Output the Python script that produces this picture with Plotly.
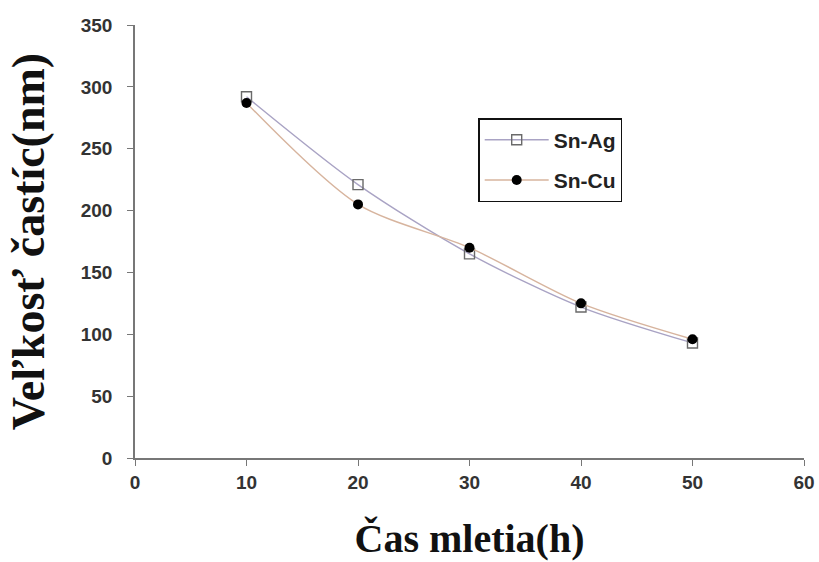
import plotly.graph_objects as go

# Milling time (h) and particle size (nm) for the two solder alloys
cas_h = [10, 20, 30, 40, 50]
sn_ag = [292, 221, 165, 122, 93]
sn_cu = [287, 205, 170, 125, 96]

x_ticks = [0, 10, 20, 30, 40, 50, 60]
y_ticks = [0, 50, 100, 150, 200, 250, 300, 350]

fig = go.Figure()

fig.add_trace(go.Scatter(
    x=cas_h, y=sn_ag, name="Sn-Ag", mode="lines+markers", legendgroup="ag",
    line=dict(color="#a9a3c4", width=1.4, shape="spline", smoothing=0.8),
    marker=dict(symbol="square-open", size=10, color="#6a6a6a", line=dict(width=1.4)),
))
fig.add_trace(go.Scatter(
    x=cas_h, y=sn_cu, name="Sn-Cu", mode="lines+markers", legendgroup="cu",
    line=dict(color="#d7b49e", width=1.4, shape="spline", smoothing=0.8),
    marker=dict(symbol="circle", size=10, color="#000000"),
))

tick_font = dict(family="Liberation Sans, Arial, sans-serif", size=19,
                 color="#333333", weight="bold")
serif = "Liberation Serif, Times New Roman, serif"

fig.update_layout(
    width=819, height=562,
    margin=dict(l=135, r=15, t=25, b=104),
    paper_bgcolor="white", plot_bgcolor="white",
    showlegend=True,
    legend=dict(
        x=0.513, y=0.785, xanchor="left", yanchor="top",
        bordercolor="#111111", borderwidth=1.5, bgcolor="white",
        font=dict(family="Liberation Sans, Arial, sans-serif", size=21,
                  color="#222222", weight="bold"),
        itemwidth=64, tracegroupgap=10,
    ),
    xaxis=dict(
        range=[0, 60], tickvals=x_ticks, showgrid=False, zeroline=False,
        showline=True, linecolor="#777777", linewidth=1.6,
        ticks="outside", ticklen=6, tickcolor="#777777",
        tickfont=tick_font, automargin=False, ticklabelstandoff=0,
        title=dict(text="<b>Čas mletia(h)</b>",
                   font=dict(family=serif, size=40, color="#111111"), standoff=32),
    ),
    yaxis=dict(
        range=[0, 350], tickvals=y_ticks, showgrid=False, zeroline=False,
        showline=True, linecolor="#777777", linewidth=1.6,
        ticks="outside", ticklen=6, tickcolor="#777777",
        tickfont=tick_font, automargin=False, ticklabelstandoff=11,
        title=dict(text="<b>Veľkosť častíc(nm)</b>",
                   font=dict(family=serif, size=46, color="#111111"), standoff=22),
    ),
)

fig.write_html("out.html")
